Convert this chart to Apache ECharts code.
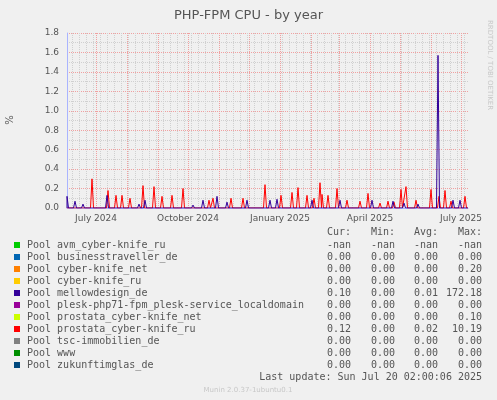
<!DOCTYPE html>
<html><head><meta charset="utf-8">
<script src="https://cdn.jsdelivr.net/npm/echarts@6/dist/echarts.min.js"></script>
<style>html,body{margin:0;padding:0;background:#f0f0f0}#c{width:497px;height:400px}</style>
</head><body><div id="c"></div>
<script>
// Day offsets from 2024-06-02 and values
const startDate = '2024-06-02';
const redDays = [25,41,49,55,63,76,87,95,105,116,142,146,164,176,198,214,225,231,240,247,253,255,261,270,280,293,301,313,321,327,334,339,349,364,372,378,384,398];
const redVals = [0.30,0.18,0.13,0.13,0.10,0.23,0.22,0.12,0.13,0.20,0.08,0.10,0.10,0.10,0.24,0.13,0.16,0.21,0.13,0.10,0.26,0.14,0.13,0.20,0.08,0.07,0.15,0.05,0.07,0.06,0.19,0.22,0.08,0.19,0.12,0.18,0.07,0.12];
const blueDays = [0,8,16,40,72,78,126,136,150,160,180,203,210,245,273,305,326,337,351,371,386,393];
const blueVals = [0.12,0.07,0.04,0.13,0.04,0.08,0.03,0.08,0.12,0.06,0.08,0.08,0.09,0.08,0.08,0.08,0.07,0.05,0.04,1.57,0.08,0.08];
const monthTicks = ['2024-07-01','2024-08-01','2024-09-01','2024-10-01','2024-11-01','2024-12-01','2025-01-01','2025-02-01','2025-03-01','2025-04-01','2025-05-01','2025-06-01','2025-07-01'];
const quarterLabels = {'2024-07-01':'July 2024','2024-10-01':'October 2024','2025-01-01':'January 2025','2025-04-01':'April 2025','2025-07-01':'July 2025'};
const legendNames = ['avm_cyber-knife_ru','businesstraveller_de','cyber-knife_net','cyber-knife_ru','mellowdesign_de','plesk-php71-fpm_plesk-service_localdomain','prostata_cyber-knife_net','prostata_cyber-knife_ru','tsc-immobilien_de','www','zukunftimglas_de'];
const legendColors = ['#00cc00','#0066b3','#ff8000','#ffcc00','#330099','#990099','#ccff00','#ff0000','#808080','#008f00','#00487d'];
const curV = ['-nan','0.00','0.00','0.00','0.10','0.00','0.00','0.12','0.00','0.00','0.00'];
const minV = ['-nan','0.00','0.00','0.00','0.00','0.00','0.00','0.00','0.00','0.00','0.00'];
const avgV = ['-nan','0.00','0.00','0.00','0.01','0.00','0.00','0.02','0.00','0.00','0.00'];
const maxV = ['-nan','0.00','0.20','0.00','172.18','0.00','0.10','10.19','0.00','0.00','0.00'];

const DAY = 86400000;
const t0 = Date.parse(startDate + 'T00:00:00Z');
const tEnd = t0 + 401*DAY;
function build(days, vals){
  const out = [[t0,0]];
  days.forEach((d,i)=>{ out.push([t0+(d-1.5)*DAY,0],[t0+d*DAY,vals[i]],[t0+(d+1.5)*DAY,0]); });
  out.push([tEnd,0]);
  return out;
}
const gridLines = [];
for (let t = t0 + 5*DAY; t < tEnd; t += 7*DAY) {
  gridLines.push({xAxis:t,lineStyle:{color:'#d0d0d0',type:'dotted',width:1},label:{show:false}});
}
monthTicks.forEach(m=>{
  const t = Date.parse(m+'T00:00:00Z');
  gridLines.push({xAxis:t,lineStyle:{color:'#f0a0a0',type:'dotted',width:1},
    label:quarterLabels[m]?{show:true,position:'start',formatter:quarterLabels[m],distance:6,fontFamily:'DejaVu Sans',fontSize:9,color:'#555'}:{show:false}});
});
const chart = echarts.init(document.getElementById('c'));
const mono = 'DejaVu Sans Mono';
const g = [];
const rowY0 = 245, dy = 12;
[['Cur:',351],['Min:',395],['Avg:',438],['Max:',482]].forEach(([t,x])=>{
  g.push({type:'text',x:x,y:232,style:{text:t,font:'10px '+mono,fill:'#555',textAlign:'right',textVerticalAlign:'middle'}});
});
legendNames.forEach((n,i)=>{
  const y=rowY0+i*dy;
  g.push({type:'rect',shape:{x:14,y:y-3,width:6,height:6},style:{fill:legendColors[i]}});
  g.push({type:'text',x:27,y:y,style:{text:'Pool '+n,font:'10px '+mono,fill:'#555',textVerticalAlign:'middle'}});
  [[curV,351],[minV,395],[avgV,438],[maxV,482]].forEach(([a,x])=>{
    g.push({type:'text',x:x,y:y,style:{text:a[i],font:'10px '+mono,fill:'#555',textAlign:'right',textVerticalAlign:'middle'}});
  });
});
g.push({type:'text',x:482,y:377,style:{text:'Last update: Sun Jul 20 02:00:06 2025',font:'10px '+mono,fill:'#555',textAlign:'right',textVerticalAlign:'middle'}});
g.push({type:'text',x:248,y:390,style:{text:'Munin 2.0.37-1ubuntu0.1',font:'7px DejaVu Sans',fill:'#c8c8c8',textAlign:'center',textVerticalAlign:'middle'}});
g.push({type:'text',x:490,y:20,rotation:-Math.PI/2,style:{text:'RRDTOOL / TOBI OETIKER',font:'7px DejaVu Sans',fill:'#c8c8c8',textVerticalAlign:'middle'}});
g.push({type:'text',x:10,y:120,rotation:Math.PI/2,style:{text:'%',font:'10px DejaVu Sans',fill:'#555',textAlign:'center',textVerticalAlign:'middle'}});

chart.setOption({
  animation:false,
  backgroundColor:'#f0f0f0',
  title:{text:'PHP-FPM CPU - by year',left:'center',top:4,textStyle:{fontFamily:'DejaVu Sans',fontSize:13,fontWeight:'normal',color:'#555'}},
  grid:{left:67,right:29,top:33,bottom:192},
  xAxis:{type:'time',min:t0,max:tEnd,
    axisLine:{lineStyle:{color:'#aab4ff'}},axisTick:{show:false},axisLabel:{show:false},
    splitLine:{show:false}},
  yAxis:{type:'value',min:0,max:1.8,interval:0.2,
    axisLine:{show:true,lineStyle:{color:'#aab4ff'}},axisTick:{show:false},
    axisLabel:{fontFamily:'DejaVu Sans',fontSize:9,color:'#555',formatter:v=>v.toFixed(1)},
    splitLine:{lineStyle:{color:'#f0a0a0',type:'dotted'}},
    minorTick:{show:false,splitNumber:2},
    minorSplitLine:{show:true,lineStyle:{color:'#d0d0d0',type:'dotted'}}},
  series:[
    {type:'line',data:build(redDays,redVals),symbol:'none',lineStyle:{color:'#ff0000',width:1},z:3,
      markLine:{silent:true,symbol:'none',animation:false,data:gridLines,z:1}},
    {type:'line',data:build(blueDays,blueVals),symbol:'none',lineStyle:{color:'#330099',width:1},z:4}
  ],
  graphic:g
});
</script></body></html>
